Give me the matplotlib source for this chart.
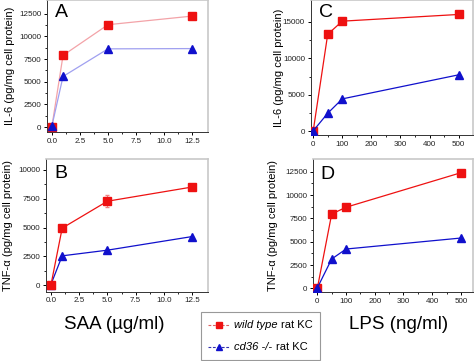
import numpy as np
import matplotlib
matplotlib.use("Agg")
import matplotlib.pyplot as plt
from matplotlib.lines import Line2D
from matplotlib.offsetbox import (TextArea, HPacker, VPacker, DrawingArea,
                                  AnchoredOffsetbox)

plt.rcParams["font.family"] = ["Liberation Sans", "DejaVu Sans"]

# ── Data ───────────────────────────────────────────────────────────────────
saa = [0, 1, 5, 12.5]
lps = [0, 50, 100, 500]

il6_saa_wt   = [0, 7900, 11280, 12230]
il6_saa_cd36 = [80, 5580, 8620, 8650]
tnf_saa_wt   = [0, 4950, 7280, 8510]
tnf_saa_cd36 = [60, 2550, 3040, 4220]
tnf_saa_wt_err = [0, 0, 500, 250]

il6_lps_wt   = [0, 13300, 15100, 16020]
il6_lps_cd36 = [60, 2480, 4450, 7750]
tnf_lps_wt   = [0, 7970, 8700, 12400]
tnf_lps_cd36 = [50, 3150, 4220, 5400]

RED, BLUE = "#ee1111", "#1010cc"
GRAY = "#c8c8c8"

fig = plt.figure(figsize=(4.77, 3.61), dpi=100)

def style(ax, xlim, ylim, xticks, yticks, xfmt, letter, ylabel, labx, lety):
    ax.set_xlim(*xlim); ax.set_ylim(*ylim)
    ax.set_xticks(xticks); ax.set_yticks(yticks)
    ax.set_xticklabels([xfmt(v) for v in xticks])
    ax.set_yticklabels([str(v) for v in yticks])
    mx = [(a + b) / 2 for a, b in zip(xticks[:-1], xticks[1:])]
    my = [(a + b) / 2 for a, b in zip(yticks[:-1], yticks[1:])]
    ax.set_xticks(mx, minor=True); ax.set_yticks(my, minor=True)
    ax.tick_params(direction="out", length=2.5, width=0.7, labelsize=5.8,
                   pad=1.5, labelcolor="#222222")
    ax.tick_params(which="minor", direction="out", length=1.5, width=0.6)
    for s in ("top", "right"):
        ax.spines[s].set_color(GRAY); ax.spines[s].set_linewidth(1.2)
    for s in ("left", "bottom"):
        ax.spines[s].set_color("#333333"); ax.spines[s].set_linewidth(0.7)
    ax.text(0.05, lety, letter, transform=ax.transAxes, fontsize=14,
            va="top", ha="left")
    ax.set_ylabel(ylabel, fontsize=8)
    ax.yaxis.set_label_coords(labx, 0.5)

# Panel A
axA = fig.add_axes([0.098, 0.634, 0.338, 0.366])
axA.plot(saa, il6_saa_wt, color="#f3a3a8", lw=0.9, marker="s", ms=5.5,
         mfc=RED, mec=RED, zorder=3)
axA.plot(saa, il6_saa_cd36, color="#a0a0f0", lw=0.9, marker="^", ms=6,
         mfc=BLUE, mec=BLUE, zorder=3)
style(axA, (-0.45, 13.9), (-550, 14000), [0.0, 2.5, 5.0, 7.5, 10.0, 12.5],
      [0, 2500, 5000, 7500, 10000, 12500], lambda v: f"{v:.1f}", "A",
      "IL-6 (pg/mg cell protein)", -0.197, 0.97)

# Panel B
axB = fig.add_axes([0.096, 0.192, 0.340, 0.368])
axB.errorbar(saa, tnf_saa_wt, yerr=tnf_saa_wt_err, color=RED, lw=0.9,
             marker="s", ms=5.5, ecolor="#f08080", elinewidth=0.7, capsize=1.5,
             zorder=3)
axB.plot(saa, tnf_saa_cd36, color=BLUE, lw=0.9, marker="^", ms=6, zorder=3)
style(axB, (-0.45, 13.9), (-555, 10950), [0.0, 2.5, 5.0, 7.5, 10.0, 12.5],
      [0, 2500, 5000, 7500, 10000], lambda v: f"{v:.1f}", "B",
      "TNF-α (pg/mg cell protein)", -0.20, 0.95)

# Panel C
axC = fig.add_axes([0.651, 0.626, 0.340, 0.374])
axC.plot(lps, il6_lps_wt, color=RED, lw=0.9, marker="s", ms=5.5, zorder=3)
axC.plot(lps, il6_lps_cd36, color=BLUE, lw=0.9, marker="^", ms=6, zorder=3)
style(axC, (-9, 548), (-500, 18000), [0, 100, 200, 300, 400, 500],
      [0, 5000, 10000, 15000], lambda v: f"{v:d}", "C",
      "IL-6 (pg/mg cell protein)", -0.165, 0.97)

# Panel D
axD = fig.add_axes([0.6556, 0.190, 0.336, 0.369])
axD.plot(lps, tnf_lps_wt, color=RED, lw=0.9, marker="s", ms=5.5, zorder=3)
axD.plot(lps, tnf_lps_cd36, color=BLUE, lw=0.9, marker="^", ms=6, zorder=3)
style(axD, (-16, 542), (-430, 13850), [0, 100, 200, 300, 400, 500],
      [0, 2500, 5000, 7500, 10000, 12500], lambda v: f"{v:d}", "D",
      "TNF-α (pg/mg cell protein)", -0.216, 0.95)

# x-axis titles
fig.text(0.24, 0.10, "SAA (µg/ml)", fontsize=13.5, ha="center", va="center")
fig.text(0.835, 0.10, "LPS (ng/ml)", fontsize=13.5, ha="center", va="center")

# Legend (built from offsetboxes so part of each label can be italic)
def legend_row(marker, color, linecolor, italic, rest):
    da = DrawingArea(16, 8, 0, 0)
    da.add_artist(Line2D([0, 8, 16], [4, 4, 4], color=linecolor, lw=0.8,
                         ls=(0, (2.5, 1.5)), marker=marker, markevery=[1],
                         ms=4.5, mfc=color, mec=color))
    t1 = TextArea(italic, textprops=dict(fontsize=8, style="italic"))
    t2 = TextArea(rest, textprops=dict(fontsize=8))
    return HPacker(children=[da, t1, t2], align="center", pad=0, sep=2.5)

rows = VPacker(children=[
    legend_row("s", RED, "#e06060", "wild type", "rat KC"),
    legend_row("^", BLUE, "#3030b0", "cd36 -/-", "rat KC"),
], align="left", pad=0, sep=7.5)
box = AnchoredOffsetbox(loc="center", child=rows, pad=0.55, borderpad=0,
                        frameon=True,
                        bbox_to_anchor=(260.5 / 477, 1 - 336 / 361),
                        bbox_transform=fig.transFigure)
box.patch.set_edgecolor("#999999")
box.patch.set_linewidth(0.8)
box.patch.set_boxstyle("square", pad=0)
fig.add_artist(box)

fig.savefig("out.png", dpi=100)
